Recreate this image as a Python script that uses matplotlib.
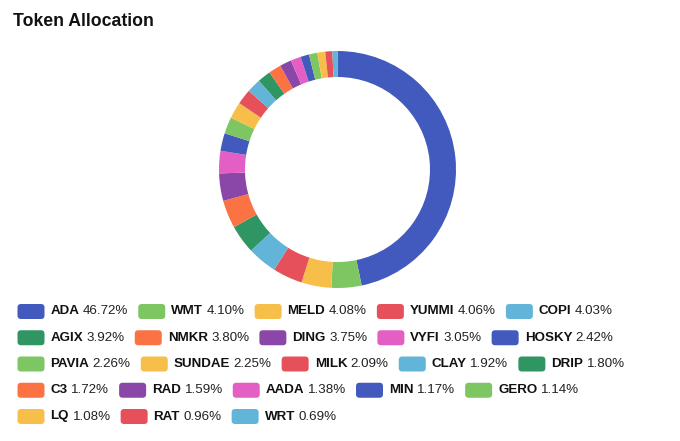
import matplotlib
matplotlib.use("Agg")
import matplotlib.pyplot as plt
from matplotlib.patches import FancyBboxPatch

tokens = ["ADA", "WMT", "MELD", "YUMMI", "COPI", "AGIX", "NMKR", "DING", "VYFI", "HOSKY",
          "PAVIA", "SUNDAE", "MILK", "CLAY", "DRIP", "C3", "RAD", "AADA", "MIN", "GERO",
          "LQ", "RAT", "WRT"]
shares = [46.72, 4.10, 4.08, 4.06, 4.03, 3.92, 3.80, 3.75, 3.05, 2.42,
          2.26, 2.25, 2.09, 1.92, 1.80, 1.72, 1.59, 1.38, 1.17, 1.14,
          1.08, 0.96, 0.69]
palette = ["#4259be", "#7ec662", "#f8be4a", "#e6505a", "#62b5d9",
           "#2f9562", "#fb7343", "#8a47a8", "#e45fc4"]
colors = [palette[i % len(palette)] for i in range(len(tokens))]
title = "Token Allocation"

W, H = 680, 441
fig = plt.figure(figsize=(W / 100, H / 100), dpi=100)
fig.patch.set_facecolor("white")

# donut
cx, cy, R = 337.5, 169.5, 118.5
box = 120
ax = fig.add_axes([(cx - box) / W, (H - cy - box) / H, 2 * box / W, 2 * box / H])
ax.pie(shares, colors=colors, startangle=90, counterclock=False, radius=R / box,
       wedgeprops=dict(width=26 / box, linewidth=0))
ax.set_xlim(-1, 1)
ax.set_ylim(-1, 1)
ax.set_aspect("auto")
ax.axis("off")

fig.text(13 / W, 1 - 21 / H, title, fontsize=12.7, fontweight="bold",
         family="Liberation Sans", color="#111111", va="center", ha="left")

renderer = fig.canvas.get_renderer()

def px_width(t):
    return t.get_window_extent(renderer=renderer).width

fs = 9.6
x0, y0 = 17.5, 311.5
row_h = 26.25
sw_w, sw_h = 27, 15
limit = 655
x, y = x0, y0
for name, val, col in zip(tokens, shares, colors):
    t1 = fig.text(0, 0, name, fontsize=fs, fontweight="bold", family="Liberation Sans")
    t2 = fig.text(0, 0, f"{val:.2f}%", fontsize=fs, family="Liberation Sans")
    w1, w2 = px_width(t1), px_width(t2)
    space = 3.5
    item_w = sw_w + 6 + w1 + space + w2
    if x + item_w > limit and x > x0:
        x = x0
        y += row_h
    sw = FancyBboxPatch((x / W, (H - y - sw_h / 2) / H), sw_w / W, sw_h / H,
                        boxstyle=f"round,pad=0,rounding_size={3.5 / W}",
                        transform=fig.transFigure, facecolor=col, edgecolor="none",
                        mutation_aspect=W / H)
    fig.add_artist(sw)
    tx = x + sw_w + 6
    t1.set_position((tx / W, 1 - y / H))
    t1.set_va("center")
    t1.set_color("#111111")
    t2.set_position(((tx + w1 + space) / W, 1 - y / H))
    t2.set_va("center")
    t2.set_color("#222222")
    x += item_w + 10

fig.savefig("out.png", dpi=100, facecolor="white")
